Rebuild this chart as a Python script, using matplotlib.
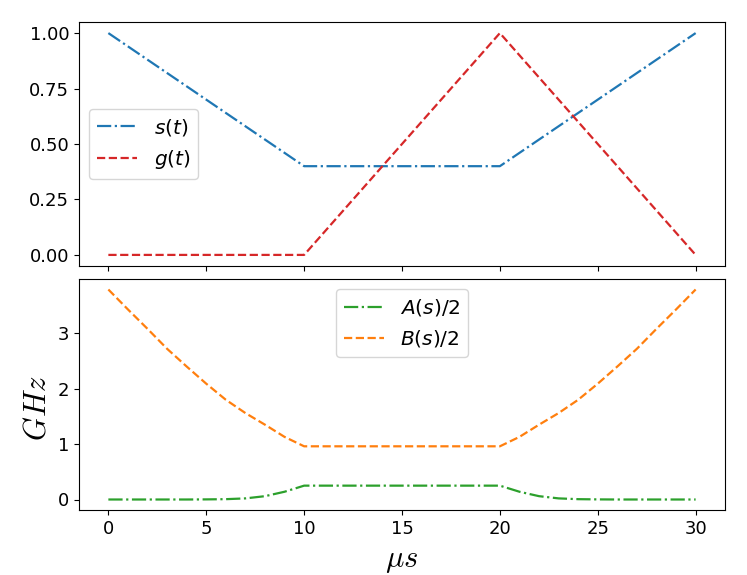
import matplotlib
matplotlib.use("Agg")
import matplotlib.pyplot as plt

# Top panel: schedules
t_key = [0, 10, 20, 30]
s_vals = [1.0, 0.4, 0.4, 1.0]
g_vals = [0.0, 0.0, 1.0, 0.0]

# Bottom panel: energy scales (GHz) sampled each microsecond
t_fine = list(range(0, 31))
A_half = [0.0, 0.0, 0.0, 0.0, 0.0, 0.002, 0.006, 0.02, 0.06, 0.14, 0.25,
          0.25, 0.25, 0.25, 0.25, 0.25, 0.25, 0.25, 0.25, 0.25,
          0.25, 0.14, 0.06, 0.02, 0.006, 0.002, 0.0, 0.0, 0.0, 0.0, 0.0]
B_half = [3.79, 3.43, 3.08, 2.72, 2.40, 2.09, 1.80, 1.56, 1.35, 1.13, 0.96,
          0.96, 0.96, 0.96, 0.96, 0.96, 0.96, 0.96, 0.96, 0.96,
          0.96, 1.13, 1.35, 1.56, 1.80, 2.09, 2.40, 2.72, 3.08, 3.43, 3.79]

x_ticks = [0, 5, 10, 15, 20, 25, 30]
top_yticks = [0.0, 0.25, 0.5, 0.75, 1.0]
bot_yticks = [0, 1, 2, 3]

fig = plt.figure(figsize=(7.47, 5.75), dpi=100)
W, H = 747, 575
ax1 = fig.add_axes([79 / W, 1 - 266 / H, (725 - 79) / W, (266 - 22) / H])
ax2 = fig.add_axes([79 / W, 1 - 510 / H, (725 - 79) / W, (510 - 279) / H], sharex=ax1)

ax1.plot(t_key, s_vals, linestyle='-.', color='#1f77b4', lw=1.6, label=r'$s(t)$')
ax1.plot(t_key, g_vals, linestyle='--', color='#d62728', lw=1.6, label=r'$g(t)$')
ax1.set_yticks(top_yticks)
ax1.set_yticklabels(['0.00', '0.25', '0.50', '0.75', '1.00'])
ax1.tick_params(labelsize=13, labelbottom=False)
ax1.legend(loc='center left', fontsize=14.5)

ax2.plot(t_fine, A_half, linestyle='-.', color='#2ca02c', lw=1.6, label=r'$A(s)/2$')
ax2.plot(t_fine, B_half, linestyle='--', color='#ff7f0e', lw=1.6, label=r'$B(s)/2$')
ax2.set_xticks(x_ticks)
ax2.set_yticks(bot_yticks)
ax2.tick_params(labelsize=13)
ax2.legend(loc='upper center', fontsize=14.5)
ax2.set_xlabel(r'$\mu s$', fontsize=22, math_fontfamily='cm', labelpad=6)
ax2.set_ylabel(r'$GHz$', fontsize=22, math_fontfamily='cm')
ax2.yaxis.set_label_coords(-0.042, 0.44)

fig.savefig('out.png', dpi=100)
